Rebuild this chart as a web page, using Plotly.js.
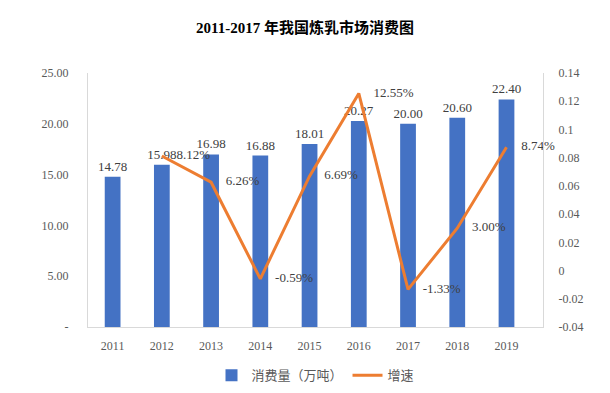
<!DOCTYPE html>
<html>
<head>
<meta charset="utf-8">
<script src="https://cdn.plot.ly/plotly-3.0.1.min.js"></script>
<style>html,body{margin:0;padding:0;background:#fff;}#chart{width:610px;height:393px;}</style>
</head>
<body>
<div id="chart"></div>
<script>
var years = ["2011","2012","2013","2014","2015","2016","2017","2018","2019"];
var consumption = [14.78, 15.98, 16.98, 16.88, 18.01, 20.27, 20.00, 20.60, 22.40];
var growthYears = ["2012","2013","2014","2015","2016","2017","2018","2019"];
var growth = [0.0812, 0.0626, -0.0059, 0.0669, 0.1255, -0.0133, 0.0300, 0.0874];
var leftTickVals = [0, 5, 10, 15, 20, 25];
var leftTickText = ["-", "5.00", "10.00", "15.00", "20.00", "25.00"];
var rightTickVals = [-0.04, -0.02, 0, 0.02, 0.04, 0.06, 0.08, 0.1, 0.12, 0.14];
var rightTickText = ["-0.04", "-0.02", "0", "0.02", "0.04", "0.06", "0.08", "0.1", "0.12", "0.14"];

var serif = "Liberation Serif, Times New Roman, serif";
var labelColor = "#404040";
var tickColor = "#595959";

var bars = {
  type: "bar",
  name: "消费量（万吨）",
  x: years,
  y: consumption,
  marker: {color: "#4472C4"},
  width: 0.32,
  text: consumption.map(function(v){return v.toFixed(2);}),
  textposition: "outside",
  constraintext: "none",
  textfont: {family: serif, size: 13, color: labelColor},
  cliponaxis: false,
  hoverinfo: "skip"
};
var line = {
  type: "scatter",
  mode: "lines+markers+text",
  name: "增速",
  x: growthYears,
  y: growth,
  yaxis: "y2",
  line: {color: "#ED7D31", width: 3},
  marker: {size: 22, color: "rgba(0,0,0,0)"},
  text: growth.map(function(v){return (v*100).toFixed(2) + "%";}),
  textposition: "middle right",
  textfont: {family: serif, size: 13, color: labelColor},
  cliponaxis: false,
  hoverinfo: "skip"
};

var layout = {
  width: 610, height: 393,
  margin: {l: 88, r: 67, t: 73, b: 66},
  paper_bgcolor: "#fff", plot_bgcolor: "#fff",
  title: {
    text: "2011-2017 年我国炼乳市场消费图",
    font: {family: "Liberation Serif, Noto Sans CJK SC", size: 15, color: "#000", weight: "bold"},
    x: 0.5, xanchor: "center", y: 0.93, yanchor: "middle"
  },
  showlegend: true,
  legend: {
    orientation: "h", x: 0.5, xanchor: "center",
    yref: "container", y: 0.045, yanchor: "middle",
    font: {family: "Noto Sans CJK SC", size: 13, color: tickColor},
    traceorder: "normal"
  },
  bargap: 0.68,
  xaxis: {
    type: "category",
    showline: true, linecolor: "#D9D9D9", linewidth: 1,
    ticks: "", showgrid: false,
    tickfont: {family: serif, size: 12, color: tickColor},
    ticklabelstandoff: 8
  },
  yaxis: {
    range: [0, 25],
    tickvals: leftTickVals, ticktext: leftTickText,
    showline: true, linecolor: "#D9D9D9", linewidth: 1,
    showgrid: false, zeroline: false, ticks: "",
    tickfont: {family: serif, size: 12, color: tickColor},
    ticklabelstandoff: 16
  },
  yaxis2: {
    overlaying: "y", side: "right",
    range: [-0.04, 0.14],
    tickvals: rightTickVals, ticktext: rightTickText,
    showline: true, linecolor: "#D9D9D9", linewidth: 1,
    showgrid: false, zeroline: false, ticks: "",
    tickfont: {family: serif, size: 12, color: tickColor},
    ticklabelstandoff: 12
  }
};

Plotly.newPlot("chart", [bars, line], layout, {displayModeBar: false, staticPlot: true});
</script>
</body>
</html>
